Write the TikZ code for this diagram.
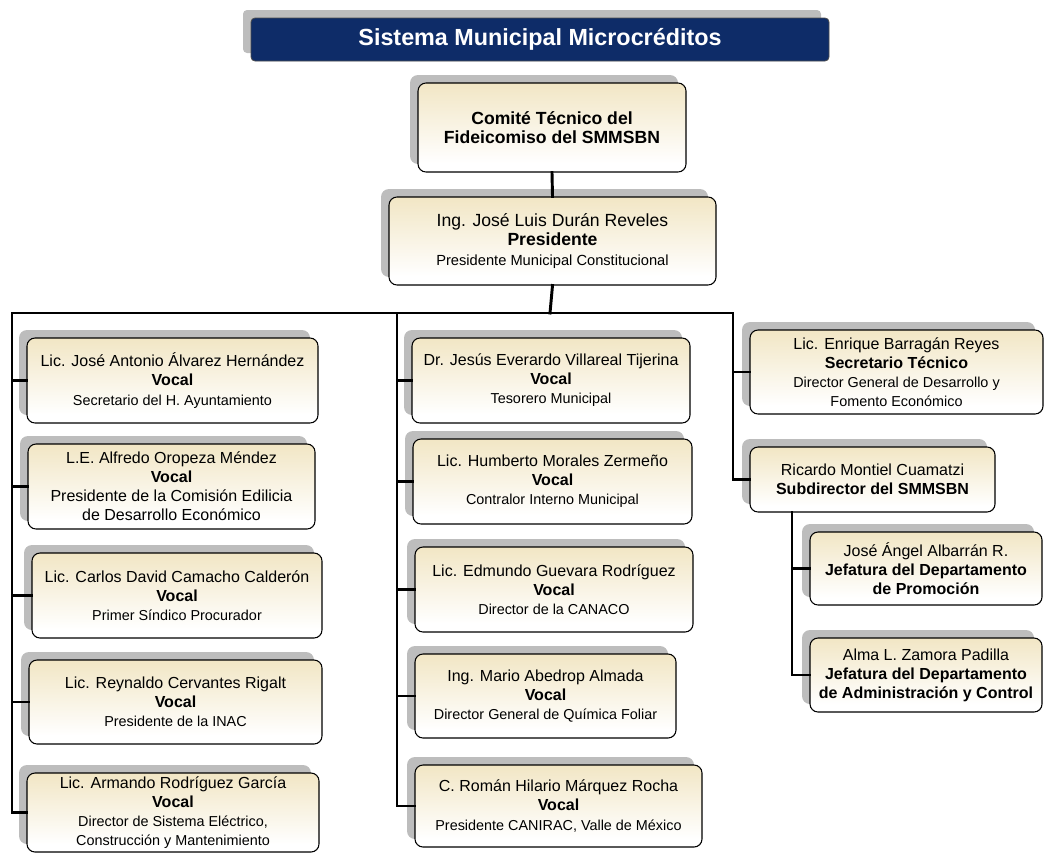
\documentclass[tikz,border=0pt]{standalone}
\usepackage{fontspec}
\setmainfont{Liberation Sans}
\definecolor{tanc}{HTML}{EAD8A4}
\definecolor{shad}{HTML}{BDBDBD}
\definecolor{navy}{HTML}{0E2C68}
\pgfdeclareverticalshading{tanfade}{100bp}{color(0bp)=(white); color(30bp)=(white); color(100bp)=(tanc)}
\newcommand\nmf{\fontsize{12}{14.3}\selectfont}
\newcommand\dsf{\fontsize{10.8}{14.3}\selectfont}
\newcommand\orgbox[6]{%
  \fill[shad,rounded corners=6pt] (#2-8,#3-8) rectangle (#4-8,#5-8);
  \node[obox,minimum width={(#4-#2)*0.75pt},minimum height={(#5-#3)*0.75pt}] (#1) at ({(#2+#4)/2},{(#3+#5)/2}) {#6};}
\tikzset{
  obox/.style={draw=black,line width=0.8pt,rounded corners=6pt,shading=tanfade,align=center,inner sep=0pt,text=black,font=\nmf},
  conn/.style={line width=2.2pt,line cap=rect}
}
\begin{document}
\begin{tikzpicture}[x=0.75pt,y=-0.75pt]
\useasboundingbox (0,0) rectangle (1046,853);
% title
\fill[shad,rounded corners=3pt] (243,10) rectangle (821,53);
\node[fill=navy,draw=black!70,line width=0.6pt,rounded corners=3pt,minimum width={578*0.75pt},minimum height={43*0.75pt},inner sep=0pt,text=white,font=\bfseries\fontsize{17.5}{20}\selectfont] (title) at (540,39.5) {Sistema Municipal Microcréditos};
% top boxes
\orgbox{comite}{418}{83}{686}{172}{\fontsize{13.2}{15}\selectfont\textbf{Comité Técnico del}\\\fontsize{13.2}{15}\selectfont\textbf{Fideicomiso del SMMSBN}}
\orgbox{pres}{389}{197}{716}{285}{\fontsize{13.2}{15}\selectfont Ing. José Luis Durán Reveles\\\fontsize{13.2}{15}\selectfont\textbf{Presidente}\\\fontsize{11}{15}\selectfont Presidente Municipal Constitucional}
% left column
\orgbox{n1}{27}{338}{318}{423}{Lic. José Antonio Álvarez Hernández\\\textbf{Vocal}\\{\dsf Secretario del H. Ayuntamiento}}
\orgbox{n2}{28}{444}{315}{529}{L.E. Alfredo Oropeza Méndez\\\textbf{Vocal}\\Presidente de la Comisión Edilicia\\de Desarrollo Económico}
\orgbox{n3}{32}{553}{322}{638}{Lic. Carlos David Camacho Calderón\\\textbf{Vocal}\\{\dsf Primer Síndico Procurador}}
\orgbox{n4}{29}{660}{322}{744}{Lic. Reynaldo Cervantes Rigalt\\\textbf{Vocal}\\{\dsf Presidente de la INAC}}
\orgbox{n5}{27}{773}{319}{852}{Lic. Armando Rodríguez García\\\textbf{Vocal}\\{\dsf Director de Sistema Eléctrico,}\\{\dsf Construcción y Mantenimiento}}
% middle column
\orgbox{n6}{412}{338}{690}{423}{Dr. Jesús Everardo Villareal Tijerina\\\textbf{Vocal}\\{\dsf Tesorero Municipal}}
\orgbox{n7}{413}{439}{692}{524}{Lic. Humberto Morales Zermeño\\\textbf{Vocal}\\{\dsf Contralor Interno Municipal}}
\orgbox{n8}{415}{547}{693}{632}{Lic. Edmundo Guevara Rodríguez\\\textbf{Vocal}\\{\dsf Director de la CANACO}}
\orgbox{n9}{415}{654}{676}{738}{Ing. Mario Abedrop Almada\\\textbf{Vocal}\\{\dsf Director General de Química Foliar}}
\orgbox{n10}{415}{765}{702}{847}{C. Román Hilario Márquez Rocha\\\textbf{Vocal}\\{\dsf Presidente CANIRAC, Valle de México}}
% right column
\orgbox{n11}{750}{330}{1043}{414}{Lic. Enrique Barragán Reyes\\\textbf{Secretario Técnico}\\{\dsf Director General de Desarrollo y}\\{\dsf Fomento Económico}}
\orgbox{n12}{750}{447}{995}{512}{Ricardo Montiel Cuamatzi\\\textbf{Subdirector del SMMSBN}}
\orgbox{n13}{810}{532}{1042}{605}{José Ángel Albarrán R.\\\textbf{Jefatura del Departamento}\\\textbf{de Promoción}}
\orgbox{n14}{810}{638}{1042}{712}{Alma L. Zamora Padilla\\\textbf{Jefatura del Departamento}\\\textbf{de Administración y Control}}
% connectors
\coordinate (hub) at (550,313);
\coordinate (tl) at (12,313);
\coordinate (tm) at (397,313);
\coordinate (tr) at (733,313);
\coordinate (ts) at (792,512);
\draw[conn] (comite.south) -- (pres.north);
\draw[conn] (pres.south) -- (hub);
\draw[conn,line cap=butt] (tl) -- (tr);
\foreach \n in {n1,n2,n3,n4,n5} \draw[conn] (tl) |- (\n.west);
\foreach \n in {n6,n7,n8,n9,n10} \draw[conn] (tm) |- (\n.west);
\foreach \n in {n11,n12} \draw[conn] (tr) |- (\n.west);
\foreach \n in {n13,n14} \draw[conn] (n12.south -| ts) |- (\n.west);
\end{tikzpicture}
\end{document}
